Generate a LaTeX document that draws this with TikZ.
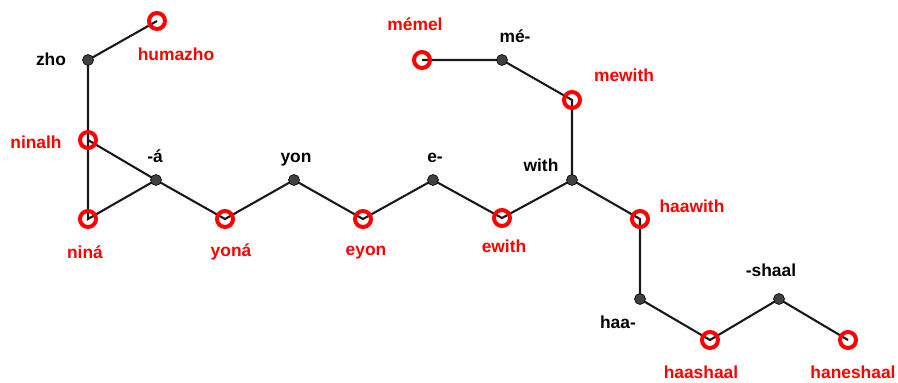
\documentclass[tikz,border=0pt]{standalone}
\usepackage{fontspec}
\setmainfont{Liberation Sans}
\begin{document}
\begin{tikzpicture}[x=1pt,y=-1pt,
  link/.style={line width=2.1pt, draw=black!90},
  stem/.style={circle, fill=black!75, draw=black, line width=0.6pt, minimum size=11pt, inner sep=0pt},
  word/.style={circle, draw=red, line width=4pt, minimum size=16pt, inner sep=0pt},
  lbl/.style={font=\fontsize{17.4}{20}\selectfont\bfseries, anchor=base, inner sep=0pt},
  wlbl/.style={lbl, text=red}]
\useasboundingbox (0,0) rectangle (898,383);
% graph vertices
\coordinate (zho) at (88,60);
\coordinate (humazho) at (157,21);
\coordinate (ninalh) at (88,140);
\coordinate (nina) at (88,219);
\coordinate (a) at (156,180);
\coordinate (yona) at (225,219);
\coordinate (yon) at (294,180);
\coordinate (eyon) at (363,219);
\coordinate (e) at (433,180);
\coordinate (ewith) at (502,218);
\coordinate (with) at (572,180);
\coordinate (mewith) at (572,100);
\coordinate (me) at (502,60);
\coordinate (memel) at (422,60);
\coordinate (haawith) at (640,219);
\coordinate (haa) at (640,299);
\coordinate (haashaal) at (710,340);
\coordinate (shaal) at (779,299);
\coordinate (haneshaal) at (848,340);
% edges
\draw[link] (humazho) -- (zho) -- (ninalh) -- (nina) -- (a) -- (ninalh);
\draw[link] (a) -- (yona) -- (yon) -- (eyon) -- (e) -- (ewith) -- (with) -- (mewith) -- (me) -- (memel);
\draw[link] (with) -- (haawith) -- (haa) -- (haashaal) -- (shaal) -- (haneshaal);
% morphemes
\foreach \p in {zho,a,yon,e,with,me,haa,shaal} \node[stem] at (\p) {};
% words
\foreach \p in {humazho,ninalh,nina,yona,eyon,ewith,mewith,memel,haawith,haashaal,haneshaal} \node[word] at (\p) {};
% labels
\node[lbl] (tzho) at (51,65) {zho};
\node[lbl] (ta) at (155,162) {-á};
\node[lbl] (tyon) at (296,162) {yon};
\node[lbl] (te) at (435,162) {e-};
\node[lbl] (twith) at (541,171) {with};
\node[lbl] (tme) at (515,42) {mé-};
\node[lbl] (thaa) at (618,328) {haa-};
\node[lbl] (tshaal) at (771,276) {-shaal};
\node[wlbl] (thumazho) at (176,60) {humazho};
\node[wlbl] (tninalh) at (36,148) {ninalh};
\node[wlbl] (tnina) at (85,258) {niná};
\node[wlbl] (tyona) at (231,256) {yoná};
\node[wlbl] (teyon) at (366,255) {eyon};
\node[wlbl] (tewith) at (504,252) {ewith};
\node[wlbl] (tmewith) at (624,81) {mewith};
\node[wlbl] (tmemel) at (415,30) {mémel};
\node[wlbl] (thaawith) at (692,212) {haawith};
\node[wlbl] (thaashaal) at (701,378) {haashaal};
\node[wlbl] (thaneshaal) at (853,378) {haneshaal};
\end{tikzpicture}
\end{document}
